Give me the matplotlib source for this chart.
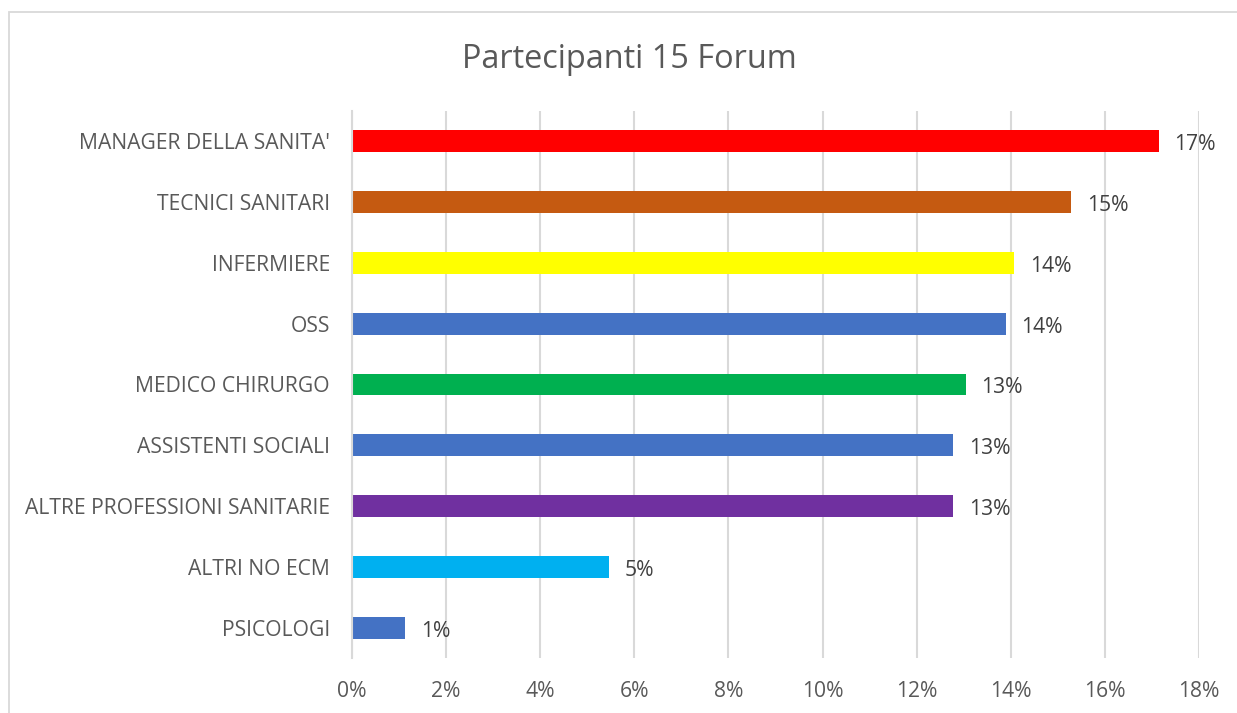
import matplotlib
matplotlib.use("Agg")
import matplotlib.pyplot as plt
from matplotlib.patches import Rectangle

categories = ["MANAGER DELLA SANITA'", "TECNICI SANITARI", "INFERMIERE", "OSS",
              "MEDICO CHIRURGO", "ASSISTENTI SOCIALI", "ALTRE PROFESSIONI SANITARIE",
              "ALTRI NO ECM", "PSICOLOGI"]
values = [17.14, 15.29, 14.07, 13.89, 13.04, 12.78, 12.78, 5.46, 1.12]
labels = ["17%", "15%", "14%", "14%", "13%", "13%", "13%", "5%", "1%"]
colors = ["#FF0000", "#C55A11", "#FFFF00", "#4472C4", "#00B050", "#4472C4",
          "#7030A0", "#00B0F0", "#4472C4"]
xticks = [0, 2, 4, 6, 8, 10, 12, 14, 16, 18]
title = "Partecipanti 15 Forum"

plt.rcParams['font.family'] = ['Open Sans', 'DejaVu Sans']
W, H = 1237, 713
fig = plt.figure(figsize=(W / 100, H / 100), dpi=100)
fig.patch.set_facecolor("white")

# chart border
fig.patches.append(Rectangle((9 / W, -0.05), 1.1, 1 - 12 / H + 0.05,
                             transform=fig.transFigure, fill=False,
                             edgecolor="#D9D9D9", linewidth=1.3))

ax = fig.add_axes([352 / W, 1 - 658 / H, (1199 - 352) / W, (658 - 111) / H])
n = len(categories)
ypos = list(range(n))
ax.barh(ypos, values, height=0.36, color=colors, zorder=3)
ax.set_ylim(n - 0.5, -0.5)
ax.set_xlim(0, 18)
ax.set_xticks(xticks)
ax.set_xticklabels([f"{t}%" for t in xticks])
ax.set_yticks(ypos)
ax.set_yticklabels(categories)
ax.tick_params(axis="both", length=0, labelsize=15.2, labelcolor="#595959")
ax.tick_params(axis="y", pad=16)
ax.tick_params(axis="x", pad=16.5)
ax.grid(axis="x", color="#D9D9D9", linewidth=1.5, zorder=0)
for s in ["top", "right", "bottom"]:
    ax.spines[s].set_visible(False)
ax.spines["left"].set_color("#D9D9D9")
ax.spines["left"].set_linewidth(1.5)
ax.spines["left"].set_zorder(4)

for y, v, l in zip(ypos, values, labels):
    ax.annotate(l, (v, y), xytext=(11.5, -2.5), textcoords="offset points",
                ha="left", va="center", fontsize=15.2, color="#404040")

fig.text(629 / W, 1 - 59 / H, title, ha="center", va="center",
         fontsize=23.4, color="#595959")

fig.savefig("out.png", dpi=100)
